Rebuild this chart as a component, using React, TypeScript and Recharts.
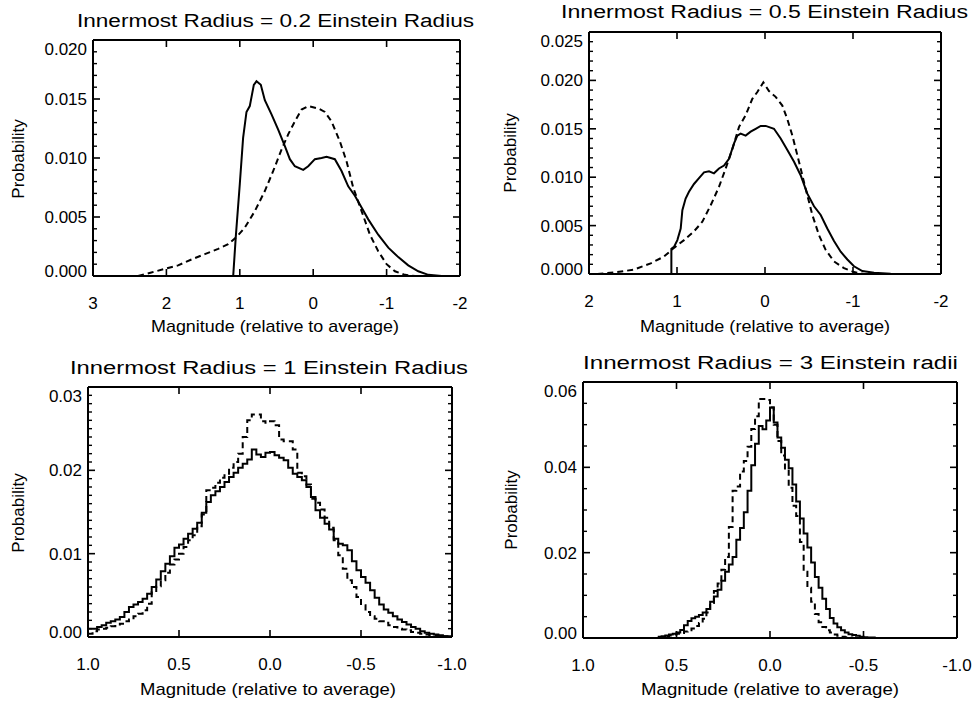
import React from "react";
import { LineChart, Line, XAxis, YAxis } from "recharts";

type Pt = { x: number; y: number };

const FONT = '"Liberation Sans", Arial, Helvetica, sans-serif';

// ---- panel 1: innermost radius 0.2 (smooth curves)
const p1SolidX = [1.09, 1.055, 1.0, 0.955, 0.909, 0.864, 0.809, 0.773, 0.714, 0.659, 0.568, 0.477, 0.386, 0.318, 0.25, 0.136, 0.068, -0.023, -0.114, -0.182, -0.295, -0.386, -0.477, -0.568, -0.659, -0.75, -0.886, -1.023, -1.159, -1.295, -1.432, -1.568, -1.75];
const p1SolidY = [0, 0.0033, 0.0078, 0.0117, 0.0139, 0.0144, 0.0162, 0.0165, 0.0162, 0.0149, 0.0137, 0.0124, 0.011, 0.0099, 0.0093, 0.009, 0.0093, 0.0099, 0.01, 0.0101, 0.0099, 0.0089, 0.0076, 0.0068, 0.0058, 0.0048, 0.0035, 0.0024, 0.0016, 0.0009, 0.0004, 0.0001, 0];
const p1DashX = [2.386, 2.205, 2.023, 1.841, 1.659, 1.477, 1.295, 1.159, 1.045, 0.932, 0.795, 0.659, 0.545, 0.432, 0.341, 0.25, 0.159, 0.068, -0.068, -0.159, -0.25, -0.364, -0.455, -0.545, -0.659, -0.773, -0.886, -1.0, -1.114, -1.25, -1.386];
const p1DashY = [0, 0.0003, 0.0006, 0.0009, 0.0014, 0.00185, 0.0023, 0.0027, 0.0033, 0.0041, 0.0055, 0.0072, 0.0089, 0.0107, 0.012, 0.0131, 0.0141, 0.0144, 0.0142, 0.0139, 0.0131, 0.0114, 0.0097, 0.0075, 0.0055, 0.0035, 0.0021, 0.001, 0.0004, 0.0001, 0];
const p1XTicks = [3, 2, 1, 0, -1, -2];
const p1XLabels = ["3", "2", "1", "0", "-1", "-2"];
const p1YTicks = [0, 0.005, 0.01, 0.015, 0.02];
const p1YLabels = ["0.000", "0.005", "0.010", "0.015", "0.020"];

// ---- panel 2: innermost radius 0.5 (smooth curves)
const p2SolidX = [1.064, 1.064, 1.034, 0.996, 0.958, 0.939, 0.902, 0.864, 0.807, 0.75, 0.693, 0.636, 0.58, 0.523, 0.466, 0.409, 0.352, 0.314, 0.277, 0.22, 0.163, 0.106, 0.049, -0.008, -0.102, -0.178, -0.254, -0.33, -0.405, -0.481, -0.557, -0.633, -0.708, -0.784, -0.86, -0.936, -1.011, -1.106, -1.239, -1.428, -1.7];
const p2SolidY = [0, 0.0026, 0.0028, 0.0035, 0.0047, 0.0066, 0.0078, 0.0085, 0.0093, 0.0099, 0.0105, 0.0106, 0.0104, 0.0109, 0.0112, 0.0119, 0.0135, 0.0143, 0.0145, 0.0143, 0.0147, 0.015, 0.0153, 0.0153, 0.015, 0.014, 0.0128, 0.0116, 0.0102, 0.0083, 0.007, 0.0061, 0.0047, 0.0034, 0.0023, 0.0015, 0.0008, 0.0003, 0.00014, 0.00003, 0];
const p2DashX = [1.905, 1.678, 1.489, 1.299, 1.148, 1.034, 0.92, 0.807, 0.712, 0.617, 0.523, 0.447, 0.371, 0.295, 0.22, 0.144, 0.087, 0.019, -0.045, -0.121, -0.197, -0.254, -0.311, -0.386, -0.462, -0.538, -0.614, -0.689, -0.784, -0.898, -1.011, -1.125];
const p2DashY = [0, 0.0002, 0.00045, 0.0011, 0.0018, 0.0027, 0.0035, 0.0044, 0.0054, 0.0071, 0.009, 0.0109, 0.0129, 0.0152, 0.0164, 0.0181, 0.0188, 0.0198, 0.0189, 0.0183, 0.0174, 0.016, 0.0143, 0.0116, 0.0088, 0.0061, 0.004, 0.0025, 0.0013, 0.0006, 0.0002, 0];
const p2XTicks = [2, 1, 0, -1, -2];
const p2XLabels = ["2", "1", "0", "-1", "-2"];
const p2YTicks = [0, 0.005, 0.01, 0.015, 0.02, 0.025];
const p2YLabels = ["0.000", "0.005", "0.010", "0.015", "0.020", "0.025"];

// ---- panel 3: innermost radius 1 (histograms, bins of 0.025 from 1.0 downwards)
const p3BinStart = 1.0;
const p3BinWidth = 0.025;
const p3Solid = [0.0010, 0.0010, 0.0012, 0.0014, 0.0017, 0.0019, 0.0021, 0.0024, 0.0030, 0.0036, 0.0039, 0.0042, 0.0046, 0.0052, 0.0060, 0.0069, 0.0079, 0.0088, 0.0097, 0.0107, 0.0111, 0.0118, 0.0124, 0.0130, 0.0137, 0.0149, 0.0162, 0.0170, 0.0175, 0.0180, 0.0186, 0.0192, 0.0197, 0.0203, 0.0208, 0.0213, 0.0225, 0.0219, 0.0216, 0.0221, 0.0222, 0.0218, 0.0215, 0.0212, 0.0203, 0.0196, 0.0192, 0.0188, 0.0180, 0.0168, 0.0152, 0.0143, 0.0136, 0.0129, 0.0118, 0.0112, 0.0110, 0.0104, 0.0091, 0.0080, 0.0072, 0.0065, 0.0056, 0.0047, 0.0039, 0.0033, 0.0029, 0.0025, 0.0021, 0.0018, 0.0015, 0.0012, 0.0010, 0.0007, 0.0005, 0.0004, 0.0003, 0.0002, 0.0001, 0.0001];
const p3Dash = [0.0004, 0.0007, 0.0009, 0.0010, 0.0011, 0.0013, 0.0015, 0.0016, 0.0019, 0.0021, 0.0025, 0.0028, 0.0032, 0.0040, 0.0054, 0.0061, 0.0068, 0.0077, 0.0087, 0.0093, 0.0100, 0.0108, 0.0116, 0.0122, 0.0133, 0.0147, 0.0176, 0.0179, 0.0185, 0.0191, 0.0196, 0.0203, 0.0210, 0.0220, 0.0240, 0.0260, 0.0267, 0.0267, 0.0259, 0.0257, 0.0259, 0.0254, 0.0237, 0.0235, 0.0235, 0.0225, 0.0197, 0.0193, 0.0183, 0.0166, 0.0161, 0.0153, 0.0143, 0.0131, 0.0116, 0.0098, 0.0082, 0.0068, 0.0060, 0.0048, 0.0038, 0.0030, 0.0025, 0.0022, 0.0019, 0.0017, 0.0014, 0.0012, 0.0010, 0.0009, 0.0008, 0.0006, 0.0005, 0.0004, 0.0003, 0.0002, 0.0002, 0.0001, 0.0001, 0.0000];
const p3XTicks = [1, 0.5, 0, -0.5, -1];
const p3XLabels = ["1.0", "0.5", "0.0", "-0.5", "-1.0"];
const p3YTicks = [0, 0.01, 0.02, 0.03];
const p3YLabels = ["0.00", "0.01", "0.02", "0.03"];

// ---- panel 4: innermost radius 3 (histograms, bins of 0.02 from 0.6 downwards)
const p4BinStart = 0.6;
const p4BinWidth = 0.02;
const p4Solid = [0.0003, 0.0004, 0.0006, 0.0008, 0.0010, 0.0013, 0.0019, 0.0030, 0.0040, 0.0046, 0.0050, 0.0054, 0.0060, 0.0068, 0.0085, 0.0097, 0.0113, 0.0134, 0.0155, 0.0172, 0.0190, 0.0230, 0.0258, 0.0295, 0.0345, 0.0405, 0.0455, 0.0497, 0.0489, 0.0510, 0.0540, 0.0505, 0.0470, 0.0446, 0.0418, 0.0398, 0.0360, 0.0320, 0.0280, 0.0245, 0.0212, 0.0177, 0.0143, 0.0118, 0.0092, 0.0068, 0.0047, 0.0034, 0.0025, 0.0018, 0.0013, 0.0009, 0.0007, 0.0005, 0.0003, 0.0002, 0.0001, 0.0001, 0, 0];
const p4Dash = [0.0001, 0.0002, 0.0004, 0.0006, 0.0008, 0.0010, 0.0012, 0.0015, 0.0018, 0.0022, 0.0028, 0.0035, 0.0045, 0.0060, 0.0082, 0.0110, 0.0128, 0.0160, 0.0190, 0.0260, 0.0345, 0.0355, 0.0390, 0.0415, 0.0448, 0.0490, 0.0520, 0.0560, 0.0560, 0.0558, 0.0540, 0.0500, 0.0462, 0.0428, 0.0395, 0.0352, 0.0310, 0.0286, 0.0225, 0.0155, 0.0118, 0.0085, 0.0056, 0.0037, 0.0026, 0.0018, 0.0013, 0.0008, 0.0005, 0.0003, 0.0002, 0.0001, 0, 0, 0, 0, 0, 0, 0, 0];
const p4XTicks = [1, 0.5, 0, -0.5, -1];
const p4XLabels = ["1.0", "0.5", "0.0", "-0.5", "-1.0"];
const p4YTicks = [0, 0.02, 0.04, 0.06];
const p4YLabels = ["0.00", "0.02", "0.04", "0.06"];

const titles = [
  "Innermost Radius = 0.2 Einstein Radius",
  "Innermost Radius = 0.5 Einstein Radius",
  "Innermost Radius = 1 Einstein Radius",
  "Innermost Radius = 3 Einstein radii",
];
const xTitle = "Magnitude (relative to average)";
const yTitle = "Probability";

function zip(xs: number[], ys: number[]): Pt[] {
  return xs.map((x, i) => ({ x, y: ys[i] }));
}

// histogram values -> points for a stepAfter line (left edges + closing edge)
function hist(start: number, width: number, vals: number[]): Pt[] {
  const pts = vals.map((v, i) => ({ x: start - i * width, y: v }));
  pts.push({ x: start - vals.length * width, y: vals[vals.length - 1] });
  return pts;
}

// minor tick positions, skipping the majors
function minors(from: number, to: number, step: number, majors: number[]): number[] {
  const n = Math.round((to - from) / step);
  const out: number[] = [];
  for (let i = 0; i <= n; i++) {
    const v = +(from + i * step).toFixed(6);
    if (!majors.some((m) => Math.abs(m - v) < 1e-9)) out.push(v);
  }
  return out;
}

function labelTick(side: "bottom" | "left", majors: number[], labels: string[]) {
  return (p: any) => {
    const i = majors.findIndex((t) => Math.abs(t - p.payload.value) < 1e-9);
    if (i < 0) return <g />;
    if (side === "bottom") {
      return (
        <text x={p.x} y={p.y} dy="0.35em" textAnchor="middle" fontSize={17} fontFamily={FONT} fill="#000" stroke="none">
          {labels[i]}
        </text>
      );
    }
    // IDL nudges the end labels inside the box
    const shift = i === 0 ? -5 : i === majors.length - 1 ? 9 : 0;
    return (
      <text x={p.x} y={p.y + shift} dy="0.35em" textAnchor="end" fontSize={17} fontFamily={FONT} fill="#000" stroke="none">
        {labels[i]}
      </text>
    );
  };
}

const noLabel = () => <g />;

type Series = { data: Pt[]; dashed?: boolean; step?: boolean };

type PanelProps = {
  left: number;
  top: number;
  width: number;
  height: number;
  box: { x0: number; x1: number; y0: number; y1: number };
  xDomain: [number, number];
  yDomain: [number, number];
  xTicks: number[];
  xLabels: string[];
  xMinor: number[];
  yTicks: number[];
  yLabels: string[];
  yMinor: number[];
  series: Series[];
};

const W_LEFT = 70;
const H_BOTTOM = 40;

function Panel(props: PanelProps) {
  const { left, top, width, height, box } = props;
  const margin = {
    top: box.y0 - top - 1,
    left: box.x0 - left - W_LEFT,
    right: left + width - box.x1 - 1,
    bottom: top + height - box.y1 - H_BOTTOM,
  };
  const frame = { stroke: "#000", strokeWidth: 2 };
  const major = { stroke: "#000", strokeWidth: 1.6 };
  const minor = { stroke: "#000", strokeWidth: 1.4 };
  return (
    <div style={{ position: "absolute", left, top, width, height }}>
      {/* main chart: frame, major ticks (inward), labels, curves */}
      <div style={{ position: "absolute", left: 0, top: 0 }}>
        <LineChart width={width} height={height} margin={margin}>
          <XAxis xAxisId="b" type="number" dataKey="x" domain={props.xDomain} reversed allowDataOverflow
            ticks={props.xTicks} interval={0} height={H_BOTTOM} tickSize={-7} tickMargin={34}
            tickLine={major} axisLine={frame} tick={labelTick("bottom", props.xTicks, props.xLabels)} />
          <XAxis xAxisId="t" orientation="top" type="number" dataKey="x" domain={props.xDomain} reversed allowDataOverflow
            ticks={props.xTicks} interval={0} height={1} tickSize={-7} tickMargin={0}
            tickLine={major} axisLine={frame} tick={noLabel} />
          <YAxis yAxisId="l" type="number" dataKey="y" domain={props.yDomain} allowDataOverflow
            ticks={props.yTicks} interval={0} width={W_LEFT} tickSize={-7} tickMargin={13}
            tickLine={major} axisLine={frame} tick={labelTick("left", props.yTicks, props.yLabels)} />
          <YAxis yAxisId="r" orientation="right" type="number" dataKey="y" domain={props.yDomain} allowDataOverflow
            ticks={props.yTicks} interval={0} width={1} tickSize={-7} tickMargin={0}
            tickLine={major} axisLine={frame} tick={noLabel} />
          {props.series.map((s, i) => (
            <Line key={i} xAxisId="b" yAxisId="l" data={s.data} dataKey="y"
              type={s.step ? "stepAfter" : "linear"} stroke="#000" strokeWidth={2}
              strokeDasharray={s.dashed ? "6 4" : undefined} dot={false} activeDot={false}
              isAnimationActive={false} />
          ))}
        </LineChart>
      </div>
      {/* same frame again, carrying the minor ticks on all four sides */}
      <div style={{ position: "absolute", left: 0, top: 0, pointerEvents: "none" }}>
        <LineChart width={width} height={height} margin={margin}>
          <XAxis xAxisId="b" type="number" domain={props.xDomain} reversed allowDataOverflow
            ticks={props.xMinor} interval={0} height={H_BOTTOM} tickSize={-4} tickMargin={0}
            tickLine={minor} axisLine={false} tick={noLabel} />
          <XAxis xAxisId="t" orientation="top" type="number" domain={props.xDomain} reversed allowDataOverflow
            ticks={props.xMinor} interval={0} height={1} tickSize={-4} tickMargin={0}
            tickLine={minor} axisLine={false} tick={noLabel} />
          <YAxis yAxisId="l" type="number" domain={props.yDomain} allowDataOverflow
            ticks={props.yMinor} interval={0} width={W_LEFT} tickSize={-4} tickMargin={0}
            tickLine={minor} axisLine={false} tick={noLabel} />
          <YAxis yAxisId="r" orientation="right" type="number" domain={props.yDomain} allowDataOverflow
            ticks={props.yMinor} interval={0} width={1} tickSize={-4} tickMargin={0}
            tickLine={minor} axisLine={false} tick={noLabel} />
        </LineChart>
      </div>
    </div>
  );
}

const titleSpecs = [
  { x0: 77, x1: 474, y: 27 },
  { x0: 561, x1: 968, y: 18 },
  { x0: 70, x1: 468, y: 374 },
  { x0: 583, x1: 958, y: 369 },
];
const xTitleSpecs = [
  { cx: 275, y: 332, w: 248 },
  { cx: 765, y: 332, w: 250 },
  { cx: 268, y: 695, w: 256 },
  { cx: 770, y: 695, w: 258 },
];
const yTitleSpecs = [
  { x: 24, cy: 159 },
  { x: 516, cy: 153 },
  { x: 24, cy: 513 },
  { x: 517, cy: 510 },
];

export default function App() {
  return (
    <div style={{ position: "absolute", left: 0, top: 0, width: 976, height: 709, background: "#fff", overflow: "hidden" }}>
      <Panel left={0} top={0} width={488} height={345}
        box={{ x0: 93, x1: 460, y0: 40, y1: 276 }}
        xDomain={[-2, 3]} yDomain={[0, 0.02]}
        xTicks={p1XTicks} xLabels={p1XLabels} xMinor={minors(-2, 3, 0.1, p1XTicks)}
        yTicks={p1YTicks} yLabels={p1YLabels} yMinor={minors(0, 0.02, 0.001, p1YTicks)}
        series={[{ data: zip(p1SolidX, p1SolidY) }, { data: zip(p1DashX, p1DashY), dashed: true }]} />
      <Panel left={488} top={0} width={488} height={345}
        box={{ x0: 589, x1: 941, y0: 32, y1: 274 }}
        xDomain={[-2, 2]} yDomain={[0, 0.025]}
        xTicks={p2XTicks} xLabels={p2XLabels} xMinor={minors(-2, 2, 0.1, p2XTicks)}
        yTicks={p2YTicks} yLabels={p2YLabels} yMinor={minors(0, 0.025, 0.001, p2YTicks)}
        series={[{ data: zip(p2SolidX, p2SolidY) }, { data: zip(p2DashX, p2DashY), dashed: true }]} />
      <Panel left={0} top={345} width={488} height={364}
        box={{ x0: 88, x1: 452, y0: 387, y1: 637 }}
        xDomain={[-1, 1]} yDomain={[0, 0.03]}
        xTicks={p3XTicks} xLabels={p3XLabels} xMinor={minors(-1, 1, 0.05, p3XTicks)}
        yTicks={p3YTicks} yLabels={p3YLabels} yMinor={minors(0, 0.03, 0.001, p3YTicks)}
        series={[
          { data: hist(p3BinStart, p3BinWidth, p3Solid), step: true },
          { data: hist(p3BinStart, p3BinWidth, p3Dash), step: true, dashed: true },
        ]} />
      <Panel left={488} top={345} width={488} height={364}
        box={{ x0: 583, x1: 957, y0: 382, y1: 638 }}
        xDomain={[-1, 1]} yDomain={[0, 0.06]}
        xTicks={p4XTicks} xLabels={p4XLabels} xMinor={minors(-1, 1, 0.1, p4XTicks)}
        yTicks={p4YTicks} yLabels={p4YLabels} yMinor={minors(0, 0.06, 0.005, p4YTicks)}
        series={[
          { data: hist(p4BinStart, p4BinWidth, p4Solid), step: true },
          { data: hist(p4BinStart, p4BinWidth, p4Dash), step: true, dashed: true },
        ]} />
      <svg width={976} height={709} style={{ position: "absolute", left: 0, top: 0, pointerEvents: "none" }}>
        {titles.map((t, i) => (
          <text key={"t" + i} x={titleSpecs[i].x0} y={titleSpecs[i].y} fontSize={18} fontFamily={FONT}
            textLength={titleSpecs[i].x1 - titleSpecs[i].x0} lengthAdjust="spacingAndGlyphs" fill="#000">
            {t}
          </text>
        ))}
        {xTitleSpecs.map((s, i) => (
          <text key={"x" + i} x={s.cx - s.w / 2} y={s.y} fontSize={17} fontFamily={FONT}
            textLength={s.w} lengthAdjust="spacingAndGlyphs" fill="#000">
            {xTitle}
          </text>
        ))}
        {yTitleSpecs.map((s, i) => (
          <text key={"y" + i} x={s.x} y={s.cy} fontSize={17} fontFamily={FONT} textAnchor="middle"
            transform={`rotate(-90 ${s.x} ${s.cy})`} fill="#000">
            {yTitle}
          </text>
        ))}
      </svg>
    </div>
  );
}
